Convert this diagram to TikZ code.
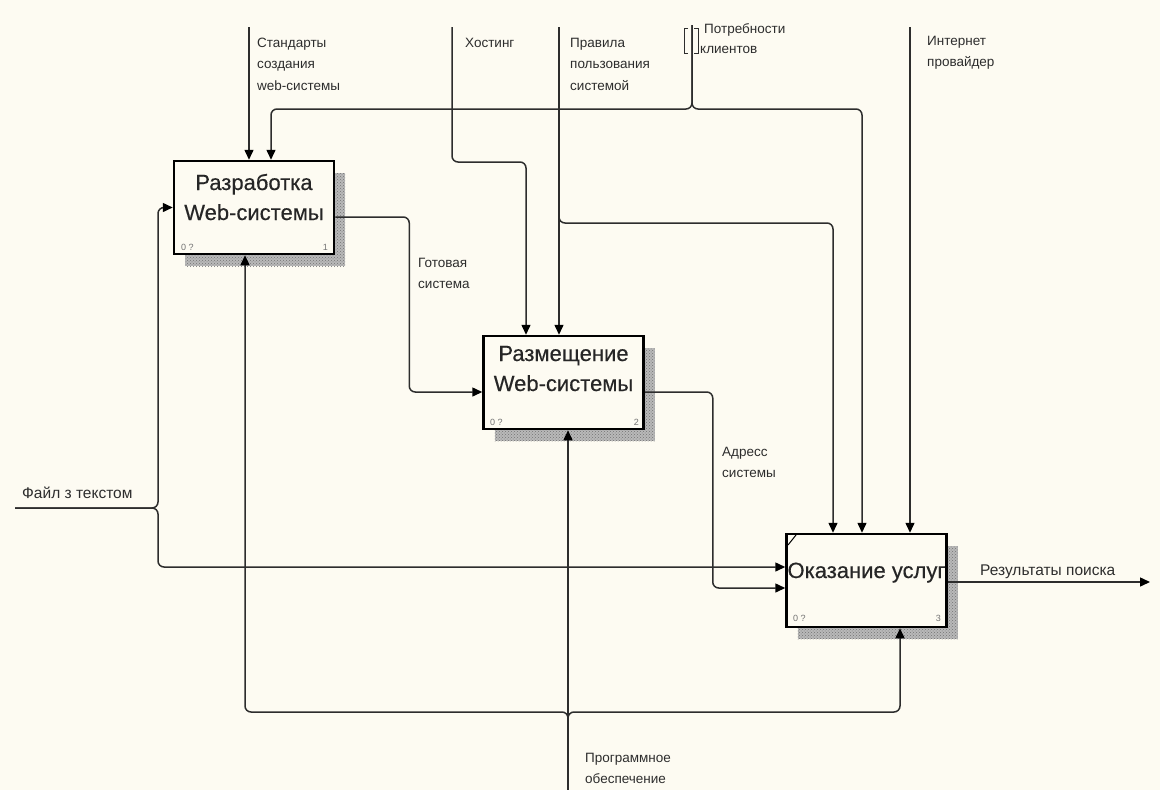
\documentclass[tikz,border=0pt]{standalone}
\usepackage{fontspec}
\setmainfont{Liberation Sans}
\newfontfamily\titlefont{Liberation Sans}[FakeBold=0.4]
\usetikzlibrary{arrows.meta,shadows,patterns}
\definecolor{paper}{RGB}{253,251,242}
\definecolor{wire}{RGB}{45,45,45}
\definecolor{ink}{RGB}{45,45,45}
\definecolor{shade}{RGB}{185,185,185}

\begin{document}
\begin{tikzpicture}[x=1pt,y=-1pt,
  wire/.style={draw=wire, line width=1.5pt, rounded corners=6pt},
  arr/.style={wire, -{Triangle[length=10pt,width=9pt,fill=black,color=black]}},
  box/.style={draw=black, line width=2.5pt, fill=paper, minimum width=160pt,
    minimum height=93pt, inner sep=0pt,
    drop shadow={shadow xshift=11pt, shadow yshift=-12pt, fill=shade, opacity=1,
      postaction={pattern=crosshatch dots, pattern color=black!55}}},
  lbl/.style={anchor=base west, inner sep=0pt, text=ink, font=\fontsize{13.5}{16}\selectfont},
  big/.style={anchor=base west, inner sep=0pt, text=ink, font=\fontsize{15.5}{18}\selectfont},
  title/.style={anchor=base, inner sep=0pt, text=black!85, font=\titlefont\fontsize{22}{26}\selectfont},
  tag/.style={anchor=base west, inner sep=0pt, text=black!55, font=\fontsize{9}{11}\selectfont},
  num/.style={tag, anchor=base east},
]
% page
\fill[paper] (0,0) rectangle (1160,790);
\useasboundingbox (0,0) rectangle (1160,790);

% activity boxes
\node[box] (b1) at (254,207.5) {};
\node[box] (b2) at (563.5,382.5) {};
\node[box] (b3) at (866.5,580.5) {};

\node[title] (b1l1) at (254,190) {Разработка};
\node[title] (b1l2) at (254,220) {Web-системы};
\node[title] (b2l1) at (563.5,361) {Размещение};
\node[title] (b2l2) at (563.5,391) {Web-системы};
\node[title] (b3l1) at (866.5,578) {Оказание услуг};

\node[tag] (b1a) at (181,250) {0 ?};
\node[num] (b1n) at (328,250) {1};
\node[tag] (b2a) at (490,425) {0 ?};
\node[num] (b2n) at (639,425) {2};
\node[tag] (b3a) at (793,621) {0 ?};
\node[num] (b3n) at (941,621) {3};
\draw[line width=1pt] (788,545) -- (796,535);

% free ends and bends
\coordinate (stdTop) at (249,27);
\coordinate (hostTop) at (452,27);
\coordinate (hostBend) at (452,162);
\coordinate (ruleTop) at (559,27);
\coordinate (ruleSplit) at (559,223);
\coordinate (needTop) at (692,25);
\coordinate (needSplit) at (692,109);
\coordinate (ispTop) at (910,27);
\coordinate (fileIn) at (15,508);
\coordinate (fileSplit) at (158,508);
\coordinate (softIn) at (568,790);
\coordinate (softSplit) at (568,712);
\coordinate (resOut) at (1150,582);

% controls
\draw[arr] (stdTop) -- (stdTop |- b1.north);
\draw[arr] (needTop) -- (needSplit) -| ([xshift=17pt]b1.north);
\draw[arr] (needTop) -- (needSplit) -| ([xshift=-4.5pt]b3.north);
\draw[arr] (hostTop) -- (hostBend) -| ([xshift=-37.5pt]b2.north);
\draw[arr] (ruleTop) -- (ruleTop |- b2.north);
\draw[arr] (ruleTop) -- (ruleSplit) -| ([xshift=-33.5pt]b3.north);
\draw[arr] (ispTop) -- (ispTop |- b3.north);

% tunnel brackets
\draw[draw=wire, line width=1pt] (688,28) -- (684,28) -- (684,53) -- (688,53);
\draw[draw=wire, line width=1pt] (694,28) -- (698,28) -- (698,53) -- (694,53);

% flows between activities
\draw[arr] ([yshift=-9.5pt]b1.east) -- ++(74,0) |- ([yshift=-9.5pt]b2.west);
\draw[arr] ([yshift=-9.5pt]b2.east) -- ++(68,0) |- ([yshift=-7.5pt]b3.west);

% inputs
\draw[arr] (fileIn) -- (fileSplit) |- (b1.west);
\draw[arr] (fileIn) -- (fileSplit) |- ([yshift=13.5pt]b3.west);

% mechanisms
\draw[arr] (softIn) -- (softIn |- b2.south);
\draw[arr] (softIn) -- (softSplit) -| ([xshift=-9pt]b1.south);
\draw[arr] (softIn) -- (softSplit) -| ([xshift=33.5pt]b3.south);

% output
\draw[arr] ([yshift=-1.5pt]b3.east) -- (resOut);

% arrow labels
\node[lbl] (t1a) at (257,47) {Стандарты};
\node[lbl] (t1b) at (257,68.5) {создания};
\node[lbl] (t1c) at (257,90) {web-системы};
\node[lbl] (t2a) at (465,47) {Хостинг};
\node[lbl] (t3a) at (570,47) {Правила};
\node[lbl] (t3b) at (570,68.5) {пользования};
\node[lbl] (t3c) at (570,90) {системой};
\node[lbl] (t4a) at (704,33) {Потребности};
\node[lbl] (t4b) at (700,53) {клиентов};
\node[lbl] (t5a) at (927,45) {Интернет};
\node[lbl] (t5b) at (927,66) {провайдер};
\node[lbl] (t6a) at (418,267) {Готовая};
\node[lbl] (t6b) at (418,288) {система};
\node[lbl] (t7a) at (722,456) {Адресс};
\node[lbl] (t7b) at (722,477) {системы};
\node[lbl] (t8a) at (585,762) {Программное};
\node[lbl] (t8b) at (585,783) {обеспечение};
\node[big] (t9) at (22,498) {Файл з текстом};
\node[big] (t10) at (980,575) {Результаты поиска};
\end{tikzpicture}
\end{document}
